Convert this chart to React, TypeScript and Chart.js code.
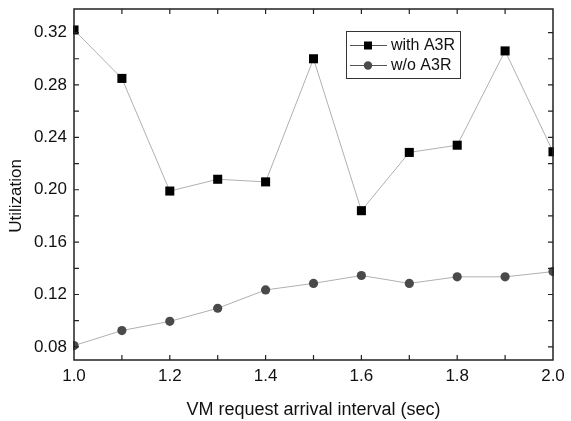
import React, { useEffect, useRef } from "react";
import { Chart, registerables } from "chart.js";

Chart.register(...registerables);

const intervals = [1.0, 1.1, 1.2, 1.3, 1.4, 1.5, 1.6, 1.7, 1.8, 1.9, 2.0];
const withA3R = [0.322, 0.285, 0.199, 0.208, 0.206, 0.3, 0.184, 0.2285, 0.234, 0.306, 0.229];
const withoutA3R = [0.081, 0.0925, 0.0995, 0.1095, 0.1235, 0.1285, 0.1345, 0.1285, 0.1335, 0.1335, 0.1375];
const xTickLabels = [1.0, 1.2, 1.4, 1.6, 1.8, 2.0];
const yTickLabels = [0.08, 0.12, 0.16, 0.2, 0.24, 0.28, 0.32];
const xMinorTicks = [1.1, 1.2, 1.3, 1.4, 1.5, 1.6, 1.7, 1.8, 1.9];
const yMinorTicks = [0.08, 0.1, 0.12, 0.14, 0.16, 0.18, 0.2, 0.22, 0.24, 0.26, 0.28, 0.3, 0.32];
const seriesNames = ["with A3R", "w/o A3R"];
const xTitle = "VM request arrival interval (sec)";
const yTitle = "Utilization";

const FONT = "'Liberation Sans', Arial, sans-serif";

const framePlugin = {
  id: "frame",
  afterDraw(chart: any) {
    const { ctx, chartArea } = chart;
    const xs = chart.scales.x;
    const ys = chart.scales.y;
    const { left, right, top, bottom } = chartArea;
    ctx.save();
    ctx.strokeStyle = "#222";
    ctx.lineWidth = 1.5;
    ctx.strokeRect(left, top, right - left, bottom - top);
    ctx.lineWidth = 1.2;
    const tl = 5;
    ctx.beginPath();
    for (const v of xMinorTicks) {
      const px = xs.getPixelForValue(v);
      ctx.moveTo(px, bottom);
      ctx.lineTo(px, bottom - tl);
      ctx.moveTo(px, top);
      ctx.lineTo(px, top + tl);
    }
    for (const v of yMinorTicks) {
      const py = ys.getPixelForValue(v);
      ctx.moveTo(left, py);
      ctx.lineTo(left + tl, py);
      ctx.moveTo(right, py);
      ctx.lineTo(right - tl, py);
    }
    ctx.stroke();

    // y title
    ctx.fillStyle = "#111";
    ctx.font = `17px ${FONT}`;
    ctx.textAlign = "center";
    ctx.textBaseline = "middle";
    ctx.save();
    ctx.translate(16.5, 196);
    ctx.rotate(-Math.PI / 2);
    ctx.fillText(yTitle, 0, 0);
    ctx.restore();

    // x title
    ctx.font = `18px ${FONT}`;
    ctx.fillText(xTitle, (left + right) / 2, 410);

    // legend
    const bx = 346.5, by = 31.5, bw = 114, bh = 47;
    ctx.fillStyle = "#fff";
    ctx.fillRect(bx, by, bw, bh);
    ctx.strokeStyle = "#333";
    ctx.lineWidth = 1;
    ctx.strokeRect(bx, by, bw, bh);
    const rows = [45.5, 65.5];
    rows.forEach((ry, i) => {
      ctx.strokeStyle = "#555";
      ctx.lineWidth = 1;
      ctx.beginPath();
      ctx.moveTo(350, ry);
      ctx.lineTo(387, ry);
      ctx.stroke();
      if (i === 0) {
        ctx.fillStyle = "#000";
        ctx.fillRect(364, ry - 4, 8, 8);
      } else {
        ctx.fillStyle = "#4a4a4a";
        ctx.beginPath();
        ctx.arc(368, ry, 4.2, 0, Math.PI * 2);
        ctx.fill();
      }
      ctx.fillStyle = "#111";
      ctx.font = `16px ${FONT}`;
      ctx.textAlign = "left";
      ctx.textBaseline = "middle";
      ctx.fillText(seriesNames[i], 391, ry);
    });
    ctx.restore();
  },
};

export default function App() {
  const ref = useRef<HTMLCanvasElement | null>(null);
  useEffect(() => {
    if (!ref.current) return;
    const chart = new Chart(ref.current, {
      type: "line",
      data: {
        labels: intervals,
        datasets: [
          {
            label: seriesNames[0],
            data: intervals.map((x, i) => ({ x, y: withA3R[i] })),
            borderColor: "#b0b0b0",
            borderWidth: 1,
            pointStyle: "rect",
            pointRadius: 6.4,
            pointBackgroundColor: "#000",
            pointBorderColor: "#000",
            pointBorderWidth: 0,
            tension: 0,
            clip: 1,
          },
          {
            label: seriesNames[1],
            data: intervals.map((x, i) => ({ x, y: withoutA3R[i] })),
            borderColor: "#b0b0b0",
            borderWidth: 1,
            pointStyle: "circle",
            pointRadius: 4.6,
            pointBackgroundColor: "#4a4a4a",
            pointBorderColor: "#4a4a4a",
            pointBorderWidth: 0,
            tension: 0,
            clip: 1,
          },
        ],
      },
      options: {
        responsive: false,
        animation: false,
        layout: { padding: { top: 9, right: 18, left: 0, bottom: 0 } },
        plugins: { legend: { display: false }, tooltip: { enabled: false } },
        scales: {
          x: {
            type: "linear",
            min: 1,
            max: 2,
            grid: { display: false, drawTicks: false },
            border: { display: false },
            ticks: {
              color: "#111",
              font: { family: FONT, size: 17 },
              padding: 6,
              maxRotation: 0,
              callback: (v: any) => Number(v).toFixed(1),
            },
            afterBuildTicks: (s: any) => {
              s.ticks = xTickLabels.map((value) => ({ value }));
            },
            afterFit: (s: any) => {
              s.height = 61;
              s.paddingLeft = 0;
              s.paddingRight = 0;
            },
          },
          y: {
            type: "linear",
            min: 0.07,
            max: 0.338,
            grid: { display: false, drawTicks: false },
            border: { display: false },
            ticks: {
              color: "#111",
              font: { family: FONT, size: 17 },
              padding: 7,
              callback: (v: any) => Number(v).toFixed(2),
            },
            afterBuildTicks: (s: any) => {
              s.ticks = yTickLabels.map((value) => ({ value }));
            },
            afterFit: (s: any) => {
              s.width = 74;
              s.paddingTop = 0;
              s.paddingBottom = 0;
            },
          },
        },
      },
      plugins: [framePlugin],
    });
    return () => chart.destroy();
  }, []);
  return (
    <div style={{ position: "absolute", left: 0, top: 0, width: 571, height: 421, background: "#fff" }}>
      <canvas ref={ref} width={571} height={421} style={{ display: "block" }} />
    </div>
  );
}
